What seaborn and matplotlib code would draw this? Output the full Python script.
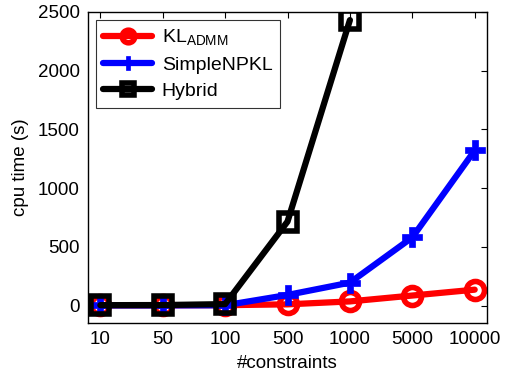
import pandas as pd
import numpy as np
import matplotlib
matplotlib.use("Agg")
import matplotlib.pyplot as plt
import seaborn as sns

# Data
constraints = ["10", "50", "100", "500", "1000", "5000", "10000"]
kl_admm = [2, 2, 3, 10, 35, 85, 135]
simple_npkl = [1, 1, 2, 90, 195, 580, 1320]
hybrid = [3, 4, 12, 715, 2430]

methods = ["KL$_{\\mathrm{ADMM}}$", "SimpleNPKL", "Hybrid"]
colors = ["#ff0000", "#0000ff", "#000000"]
markers = ["o", "P", "s"]

rows = []
for m, vals in zip(methods, [kl_admm, simple_npkl, hybrid]):
    for c, v in zip(constraints, vals):
        rows.append({"constraints": c, "cpu": v, "method": m})
df = pd.DataFrame(rows)

sns.set_style("white")
plt.rcParams['font.family'] = ['Liberation Sans', 'DejaVu Sans']
plt.rcParams['mathtext.fontset'] = 'custom'
plt.rcParams['mathtext.rm'] = 'Liberation Sans'
plt.rcParams['mathtext.it'] = 'Liberation Sans'
plt.rcParams['text.color'] = 'black'
plt.rcParams['axes.labelcolor'] = 'black'
plt.rcParams['xtick.color'] = 'black'
plt.rcParams['ytick.color'] = 'black'

fig = plt.figure(figsize=(5.08, 3.71), dpi=100)
ax = fig.add_axes([0.173, 0.129, 0.786, 0.839])

for m, col, mk in zip(methods, colors, markers):
    sub = df[df["method"] == m]
    sns.lineplot(data=sub, x="constraints", y="cpu", ax=ax, color=col, lw=4.5,
                 marker=mk, markersize=13 if mk != "P" else 14,
                 markerfacecolor="none" if mk != "P" else col,
                 markeredgecolor=col, markeredgewidth=4 if mk != "P" else 0.5,
                 label=m, sort=False)

ax.set_xlim(-0.2, 6.2)
ax.set_ylim(-150, 2500)
ax.set_yticks([0, 500, 1000, 1500, 2000, 2500])
ax.set_xlabel("#constraints", fontsize=13.5, labelpad=5)
ax.set_ylabel("cpu time (s)", fontsize=13.5, labelpad=6)
ax.tick_params(direction="in", length=4, width=0.8, labelsize=13.5, top=True, right=True, pad=6)
for s in ax.spines.values():
    s.set_linewidth(1.0)
    s.set_color("black")

leg = ax.legend(loc="upper left", fontsize=14, frameon=True, fancybox=False,
                edgecolor="black", borderaxespad=0.4, handlelength=2.5,
                labelspacing=0.45, borderpad=0.4, handletextpad=0.5, markerscale=0.7)
leg.get_frame().set_linewidth(0.8)

fig.savefig("out.png", dpi=100)
